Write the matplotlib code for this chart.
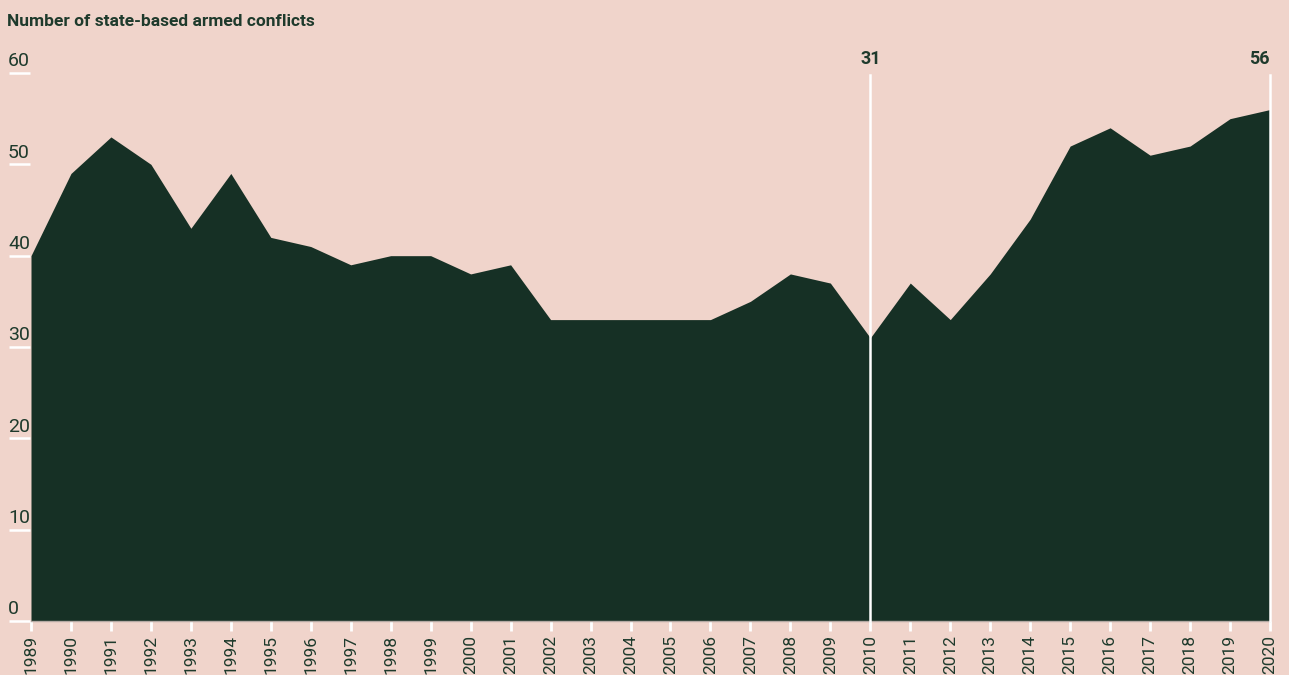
import matplotlib.pyplot as plt
import matplotlib.transforms as mtransforms

years = list(range(1989, 2021))
conflicts = [40, 49, 53, 50, 43, 49, 42, 41, 39, 40, 40, 38, 39, 33, 33, 33, 33, 33,
             35, 38, 37, 31, 37, 33, 38, 44, 52, 54, 51, 52, 55, 56]
y_ticks = [0, 10, 20, 30, 40, 50, 60]
highlight_years = [2010, 2020]

bg = '#f0d4cb'
fill_col = '#163025'
text_col = '#1e3a2c'

plt.rcParams['font.family'] = ['Roboto', 'DejaVu Sans']

fig = plt.figure(figsize=(12.89, 6.75), dpi=100)
fig.patch.set_facecolor(bg)
ax = fig.add_axes([31 / 1289, 54 / 675, 1239 / 1289, 548 / 675])
ax.set_facecolor(bg)

ax.fill_between(years, conflicts, 0, color=fill_col, linewidth=0)
ax.set_xlim(years[0], years[-1])
ax.set_ylim(0, 60)

for s in ['top', 'right', 'left']:
    ax.spines[s].set_visible(False)
ax.spines['bottom'].set_color('#b5aaa4')
ax.spines['bottom'].set_linewidth(1)

# x ticks
ax.set_xticks(years)
ax.set_xticklabels([str(y) for y in years], rotation=90, fontsize=12.5, color=text_col)
ax.tick_params(axis='x', length=7, width=2, color='white', pad=3)

# y ticks drawn manually as short white underlines with labels above
ax.set_yticks([])
trans = mtransforms.blended_transform_factory(ax.transAxes, ax.transData)
for v in y_ticks:
    ax.plot([-22 / 1239, -1 / 1239], [v, v], color='white', lw=1.8,
            transform=trans, clip_on=False, solid_capstyle='butt')
    ax.text(-23 / 1239, v + 0.3, str(v), transform=trans, fontsize=14,
            color=text_col, ha='left', va='bottom')

# highlighted vertical lines with value labels
for hy in highlight_years:
    val = conflicts[years.index(hy)]
    ax.plot([hy, hy], [0, 59.8], color='white', lw=1.8, clip_on=False, zorder=3)
    ax.text(hy, 60.6, str(val), fontsize=13, fontweight='bold', color=text_col,
            ha='center' if hy != years[-1] else 'right', va='bottom')

fig.text(7 / 1289, 1 - 21 / 675, 'Number of state-based armed conflicts',
         fontsize=12.5, fontweight='bold', color=text_col, ha='left', va='center')

fig.savefig('out.png', dpi=100, facecolor=bg)
